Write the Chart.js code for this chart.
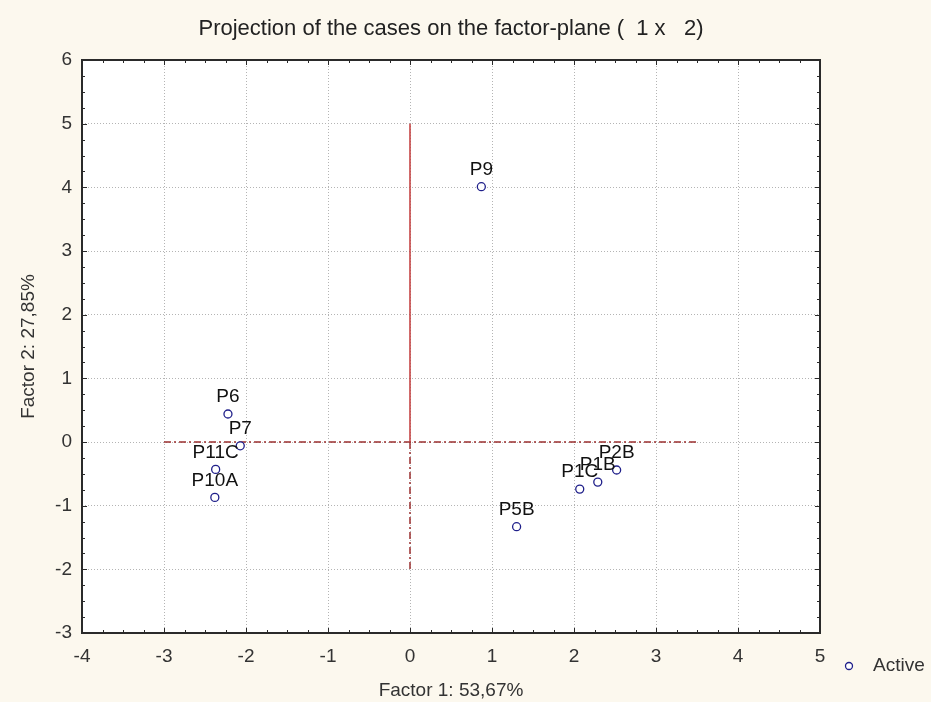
<!DOCTYPE html>
<html>
<head>
<meta charset="utf-8">
<script src="https://cdn.jsdelivr.net/npm/chart.js@4.4.1/dist/chart.umd.min.js"></script>
<style>
  html, body { margin: 0; padding: 0; background: #fcf8ee; }
  #wrap { width: 931px; height: 702px; position: relative; }
</style>
</head>
<body>
<div id="wrap"><canvas id="factorChart"></canvas></div>
<script>
// cases projected on factor 1 x factor 2
const caseLabels = ["P1C", "P1B", "P2B", "P5B", "P6", "P7", "P9", "P10A", "P11C"];
const factor1 = [2.07, 2.29, 2.52, 1.30, -2.22, -2.07, 0.87, -2.38, -2.37];
const factor2 = [-0.74, -0.63, -0.44, -1.33, 0.44, -0.06, 4.01, -0.87, -0.43];

const xTickValues = [-4, -3, -2, -1, 0, 1, 2, 3, 4, 5];
const yTickValues = [-3, -2, -1, 0, 1, 2, 3, 4, 5, 6];

// red reference lines through the origin
const vSolidX = [0, 0];
const vSolidY = [5, 0];
const vDashX = [0, 0];
const vDashY = [0, -2];
const hDashX = [-3, 3.5];
const hDashY = [0, 0];

const FONT = "'Liberation Sans', Arial, sans-serif";
const textColor = "#333";

const toPoints = (xs, ys) => xs.map((x, i) => ({ x: x, y: ys[i] }));

const plotDecor = {
  id: "plotDecor",
  beforeDraw(chart) {
    const { ctx, chartArea: a } = chart;
    ctx.save();
    ctx.fillStyle = "#fcf8ee";
    ctx.fillRect(0, 0, chart.width, chart.height);
    ctx.fillStyle = "#ffffff";
    ctx.fillRect(a.left, a.top, a.right - a.left, a.bottom - a.top);
    ctx.restore();
  },
  beforeDatasetsDraw(chart) {
    const { ctx, chartArea: a, scales } = chart;
    ctx.save();
    ctx.strokeStyle = "#2a2a2a";
    ctx.lineWidth = 1;
    // inward tick marks on all four edges
    for (let v = -4; v <= 5.001; v += 0.25) {
      const px = Math.round(scales.x.getPixelForValue(v)) + 0.5;
      const len = Math.abs(v - Math.round(v)) < 0.01 ? 5 : 3;
      ctx.beginPath();
      ctx.moveTo(px, a.bottom); ctx.lineTo(px, a.bottom - len);
      ctx.moveTo(px, a.top); ctx.lineTo(px, a.top + len);
      ctx.stroke();
    }
    for (let v = -3; v <= 6.001; v += 0.25) {
      const py = Math.round(scales.y.getPixelForValue(v)) + 0.5;
      const len = Math.abs(v - Math.round(v)) < 0.01 ? 5 : 3;
      ctx.beginPath();
      ctx.moveTo(a.left, py); ctx.lineTo(a.left + len, py);
      ctx.moveTo(a.right, py); ctx.lineTo(a.right - len, py);
      ctx.stroke();
    }
    ctx.lineWidth = 2;
    ctx.strokeRect(a.left, a.top, a.right - a.left, a.bottom - a.top);
    ctx.restore();
  },
  afterDatasetsDraw(chart) {
    const { ctx } = chart;
    const meta = chart.getDatasetMeta(0);
    ctx.save();
    ctx.fillStyle = "#111";
    ctx.font = "19px " + FONT;
    ctx.textAlign = "center";
    ctx.textBaseline = "middle";
    meta.data.forEach((pt, i) => {
      ctx.fillText(caseLabels[i], pt.x, pt.y - 17);
    });
    ctx.restore();
  },
  afterDraw(chart) {
    const { ctx, chartArea: a } = chart;
    const ds = chart.data.datasets[0];
    const y = a.bottom + 33;
    const x = a.right + 29;
    ctx.save();
    ctx.beginPath();
    ctx.arc(x, y, 3.5, 0, Math.PI * 2);
    ctx.fillStyle = "#fff";
    ctx.fill();
    ctx.lineWidth = 1.3;
    ctx.strokeStyle = ds.borderColor;
    ctx.stroke();
    ctx.fillStyle = textColor;
    ctx.font = "19px " + FONT;
    ctx.textAlign = "left";
    ctx.textBaseline = "middle";
    ctx.fillText(ds.label, x + 24, y);
    ctx.restore();
  }
};

const ctx = document.getElementById("factorChart").getContext("2d");

const factorChart = new Chart(ctx, {
  type: "scatter",
  data: {
    datasets: [
      {
        label: "Active",
        data: toPoints(factor1, factor2),
        pointRadius: 4,
        pointBorderWidth: 1.3,
        borderColor: "#1f1f8a",
        backgroundColor: "#ffffff",
      },
      {
        label: "axis1",
        data: toPoints(vSolidX, vSolidY),
        showLine: true,
        pointRadius: 0,
        borderColor: "#c23a3a",
        borderWidth: 1.5,
      },
      {
        label: "axis2",
        data: toPoints(vDashX, vDashY),
        showLine: true,
        pointRadius: 0,
        borderColor: "#9a2f2f",
        borderWidth: 1.5,
        borderDash: [7, 3, 2, 3],
      },
      {
        label: "axis3",
        data: toPoints(hDashX, hDashY),
        showLine: true,
        pointRadius: 0,
        borderColor: "#9a2f2f",
        borderWidth: 1.5,
        borderDash: [7, 3, 2, 3],
      },
    ],
  },
  options: {
    responsive: true,
    maintainAspectRatio: false,
    animation: false,
    layout: { padding: { left: 0, right: 111, top: 0, bottom: 0 } },
    plugins: {
      legend: { display: false },
      tooltip: { enabled: false },
      title: {
        display: true,
        fullSize: false,
        text: "Projection of the cases on the factor-plane (  1 x   2)",
        color: "#222",
        font: { family: FONT, size: 22, weight: "normal" },
        padding: { top: 16, bottom: 17.6 },
      },
    },
    scales: {
      x: {
        type: "linear",
        min: -4,
        max: 5,
        afterBuildTicks: (scale) => {
          scale.ticks = xTickValues.map((v) => ({ value: v }));
        },
        afterFit: (scale) => {
          scale.height = 69;
        },
        ticks: {
          color: textColor,
          padding: 12,
          font: { family: FONT, size: 19 },
          callback: (v) => String(v),
        },
        grid: { color: "#b4b4b4", drawTicks: false, lineWidth: 1 },
        border: { display: false, dash: [1, 2] },
        title: {
          display: true,
          text: "Factor 1: 53,67%",
          color: textColor,
          font: { family: FONT, size: 19 },
          padding: { top: 1, bottom: 0 },
        },
      },
      y: {
        type: "linear",
        min: -3,
        max: 6,
        afterBuildTicks: (scale) => {
          scale.ticks = yTickValues.map((v) => ({ value: v }));
        },
        afterFit: (scale) => {
          scale.width = 82;
        },
        ticks: {
          color: textColor,
          padding: 10,
          font: { family: FONT, size: 19 },
          callback: (v) => String(v),
        },
        grid: { color: "#b4b4b4", drawTicks: false, lineWidth: 1 },
        border: { display: false, dash: [1, 2] },
        title: {
          display: true,
          text: "Factor 2: 27,85%",
          color: textColor,
          font: { family: FONT, size: 19 },
          padding: { top: 17, bottom: 0 },
        },
      },
    },
  },
  plugins: [plotDecor],
});
</script>
</body>
</html>
